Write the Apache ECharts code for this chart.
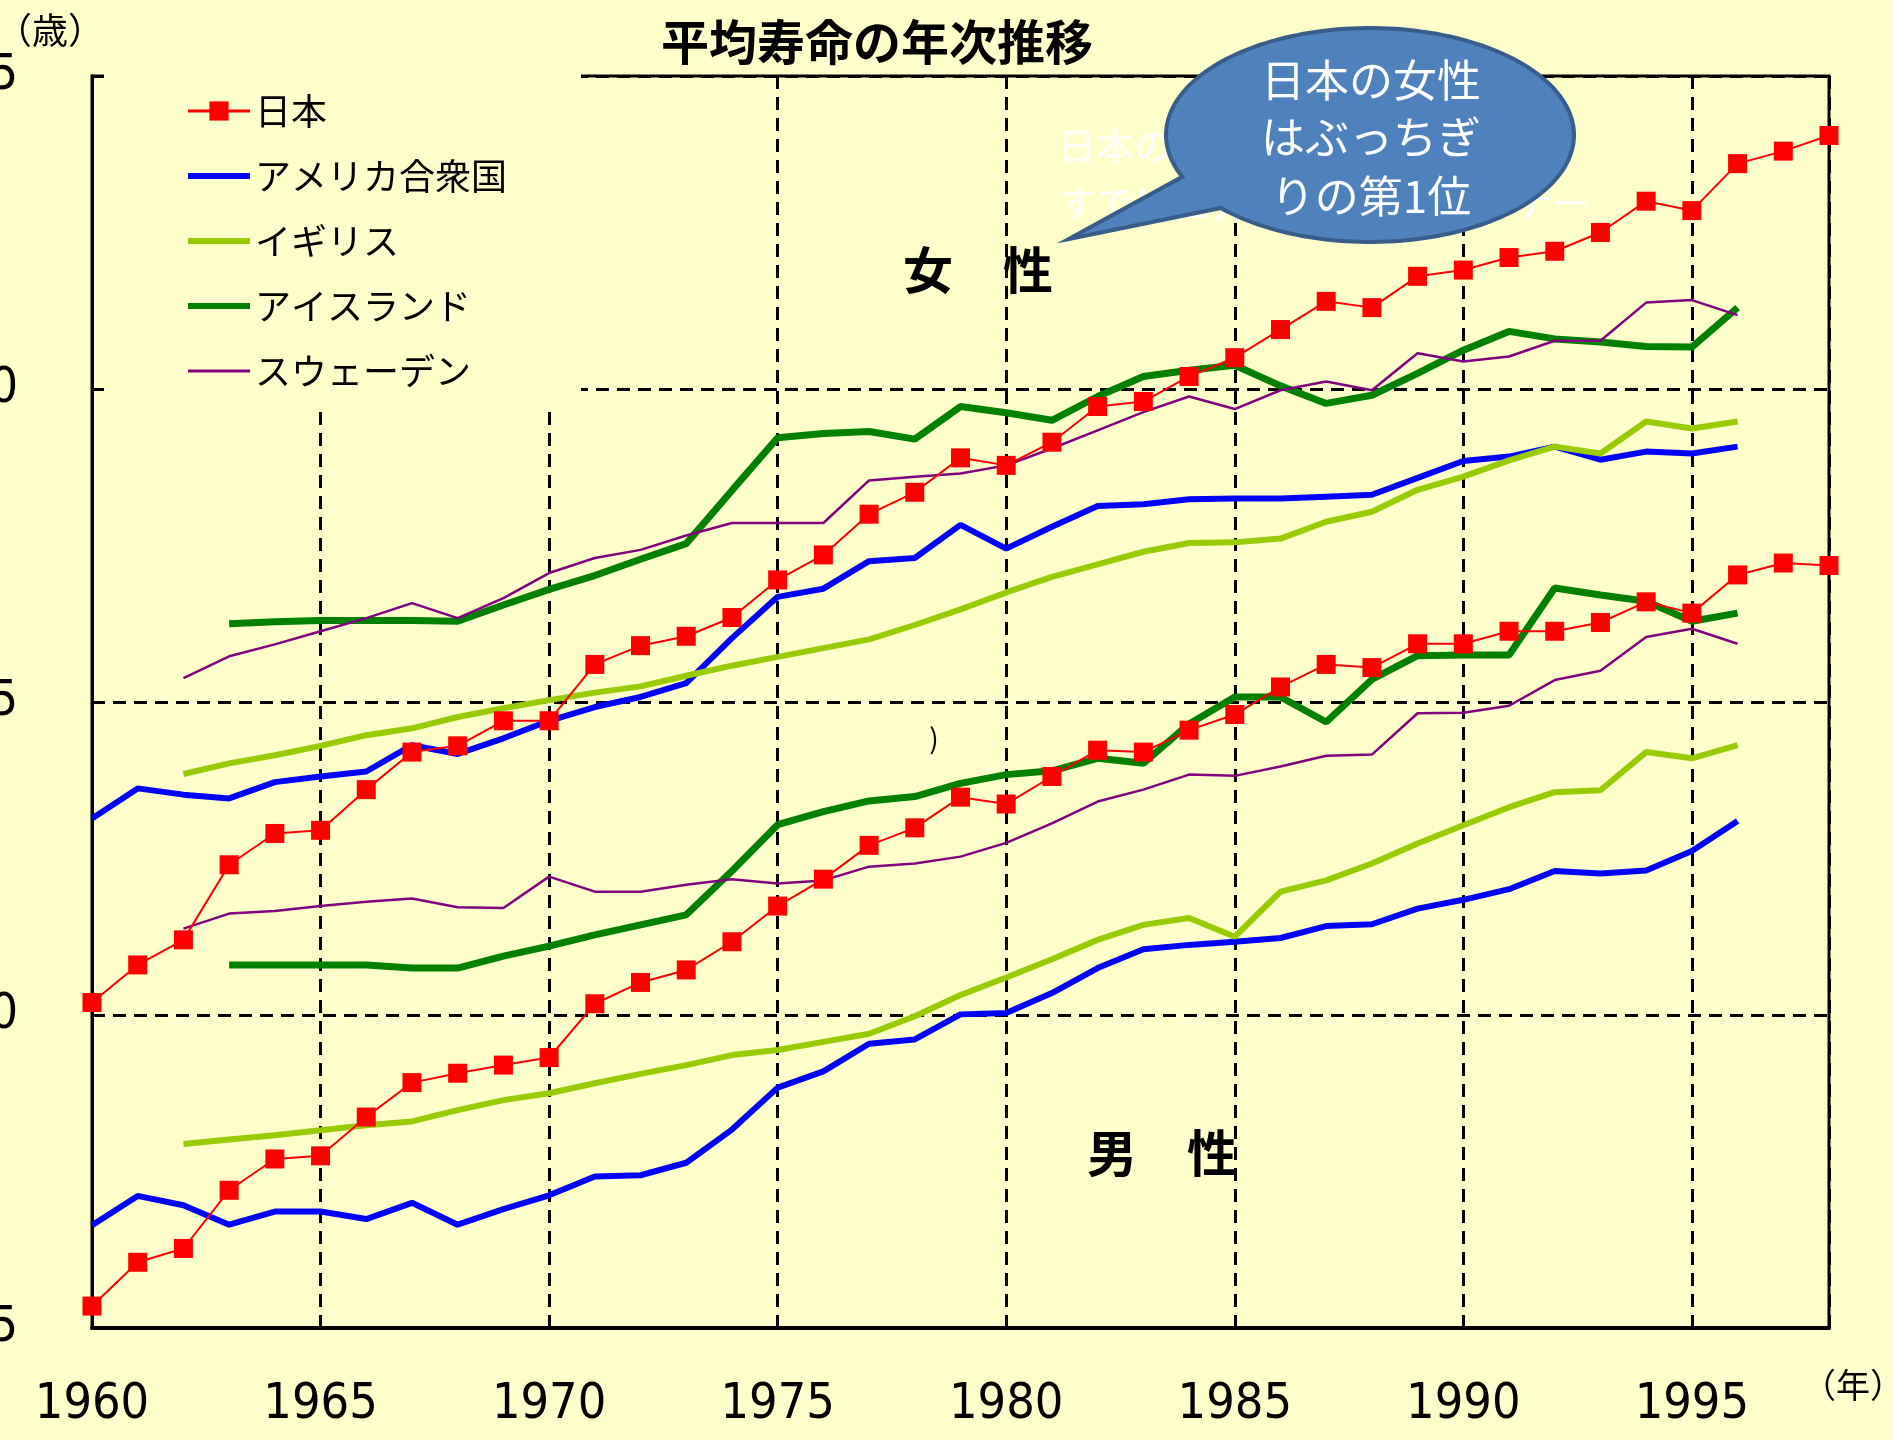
<!DOCTYPE html>
<html>
<head>
<meta charset="utf-8">
<title>平均寿命の年次推移</title>
<script src="https://cdn.jsdelivr.net/npm/echarts@6/dist/echarts.min.js"></script>
<style>
  html, body { margin: 0; padding: 0; background: #ffffcc; }
  #main { width: 1893px; height: 1440px; }
</style>
</head>
<body>
<div id="main"></div>
<script>
// 年（横軸）
var years = [1960, 1961, 1962, 1963, 1964, 1965, 1966, 1967, 1968, 1969,
             1970, 1971, 1972, 1973, 1974, 1975, 1976, 1977, 1978, 1979,
             1980, 1981, 1982, 1983, 1984, 1985, 1986, 1987, 1988, 1989,
             1990, 1991, 1992, 1993, 1994, 1995, 1996, 1997, 1998];
var yTicks = [65, 70, 75, 80, 85];
var xTicks = [1960, 1965, 1970, 1975, 1980, 1985, 1990, 1995];

// 日本 1960-1998
var japan_f = [70.2, 70.8, 71.2, 72.4, 72.9, 72.95, 73.6, 74.2, 74.3, 74.7,
               74.7, 75.6, 75.9, 76.05, 76.35, 76.95, 77.35, 78.0, 78.35, 78.9,
               78.78, 79.15, 79.72, 79.8, 80.2, 80.5, 80.95, 81.4, 81.3, 81.8,
               81.9, 82.1, 82.2, 82.5, 83.0, 82.85, 83.6, 83.8, 84.05];
var japan_m = [65.35, 66.05, 66.27, 67.2, 67.7, 67.75, 68.37, 68.92, 69.07, 69.2,
               69.32, 70.18, 70.52, 70.72, 71.17, 71.74, 72.17, 72.71, 72.99, 73.48,
               73.37, 73.81, 74.23, 74.2, 74.55, 74.8, 75.24, 75.6, 75.55, 75.93,
               75.93, 76.13, 76.13, 76.27, 76.6, 76.42, 77.03, 77.22, 77.18];
// アメリカ合衆国 1960-1996
var usa_f = [73.14, 73.62, 73.52, 73.46, 73.72, 73.81, 73.89, 74.31, 74.17, 74.42,
             74.7, 74.92, 75.08, 75.3, 76.02, 76.68, 76.81, 77.25, 77.3, 77.83,
             77.45, 77.8, 78.13, 78.16, 78.24, 78.25, 78.25, 78.28, 78.31, 78.58,
             78.85, 78.92, 79.08, 78.87, 79.0, 78.97, 79.08];
var usa_m = [66.64, 67.11, 66.96, 66.65, 66.86, 66.86, 66.74, 67.0, 66.65, 66.9,
             67.12, 67.42, 67.44, 67.64, 68.17, 68.84, 69.1, 69.54, 69.61, 70.01,
             70.03, 70.35, 70.75, 71.05, 71.12, 71.17, 71.23, 71.42, 71.45, 71.7,
             71.84, 72.01, 72.3, 72.26, 72.31, 72.62, 73.1];
// イギリス 1962-1996
var uk_f = [73.85, 74.02, 74.15, 74.3, 74.47, 74.58, 74.76, 74.9,
            75.03, 75.15, 75.25, 75.42, 75.58, 75.72, 75.86, 76.0, 76.23, 76.48,
            76.75, 77.0, 77.2, 77.4, 77.54, 77.55, 77.61, 77.88, 78.04, 78.39,
            78.6, 78.86, 79.08, 78.97, 79.48, 79.37, 79.48];
var uk_m = [67.94, 68.01, 68.08, 68.16, 68.24, 68.3, 68.48, 68.64,
            68.75, 68.91, 69.06, 69.2, 69.36, 69.44, 69.57, 69.7, 69.98, 70.32,
            70.6, 70.89, 71.2, 71.44, 71.55, 71.25, 71.97, 72.15, 72.42, 72.74,
            73.03, 73.32, 73.56, 73.59, 74.2, 74.1, 74.31];
// アイスランド 1963-1996
var iceland_f = [76.25, 76.28, 76.3, 76.3, 76.3, 76.29, 76.55,
                 76.8, 77.02, 77.28, 77.53, 78.38, 79.22, 79.29, 79.32, 79.2, 79.72,
                 79.62, 79.5, 79.88, 80.2, 80.3, 80.38, 80.05, 79.77, 79.9, 80.25,
                 80.62, 80.92, 80.8, 80.75, 80.68, 80.67, 81.3];
var iceland_m = [70.8, 70.8, 70.8, 70.8, 70.75, 70.75, 70.94,
                 71.1, 71.28, 71.44, 71.6, 72.3, 73.04, 73.25, 73.42, 73.49, 73.7,
                 73.84, 73.9, 74.1, 74.02, 74.65, 75.08, 75.08, 74.68, 75.36, 75.74,
                 75.75, 75.75, 76.82, 76.71, 76.61, 76.29, 76.42];
// スウェーデン 1962-1996
var sweden_f = [75.38, 75.73, 75.92, 76.13, 76.34, 76.58, 76.34, 76.66,
                77.06, 77.3, 77.43, 77.66, 77.86, 77.86, 77.86, 78.54, 78.6, 78.65,
                78.78, 79.05, 79.34, 79.63, 79.88, 79.68, 79.98, 80.12, 79.98, 80.57,
                80.44, 80.52, 80.77, 80.77, 81.38, 81.42, 81.18];
var sweden_m = [71.38, 71.62, 71.66, 71.74, 71.81, 71.86, 71.72, 71.71,
                72.21, 71.97, 71.97, 72.08, 72.17, 72.1, 72.15, 72.37, 72.42, 72.53,
                72.75, 73.06, 73.41, 73.6, 73.84, 73.82, 73.97, 74.14, 74.16, 74.82,
                74.83, 74.94, 75.35, 75.5, 76.04, 76.17, 75.93];

// 吹き出しの文
var bubbleLines = ['日本の女性', 'はぶっちぎ', 'りの第1位'];
var ghostLines = ['日本の女性の平均寿命は長く、', 'すでに世界のトップ・ランナー'];

function pairs(startYear, vals) {
  var off = years.indexOf(startYear);
  return vals.map(function (v, i) { return [years[off + i], v]; });
}

var jpFont = '"Noto Sans CJK JP", "Noto Sans CJK SC", sans-serif';
var numFont = '"Liberation Sans Narrow", "DejaVu Sans Condensed", "Liberation Sans", sans-serif';

function lineSeries(name, color, width, startYear, vals) {
  return {
    name: name,
    type: 'line',
    data: pairs(startYear, vals),
    symbol: 'none',
    showSymbol: false,
    lineStyle: { color: color, width: width },
    itemStyle: { color: color },
    emphasis: { disabled: true },
    silent: true
  };
}
function japanSeries(vals) {
  return {
    name: '日本',
    type: 'line',
    data: pairs(1960, vals),
    symbol: 'rect',
    symbolSize: 19,
    lineStyle: { color: '#ff0000', width: 2 },
    itemStyle: { color: '#ff0000' },
    emphasis: { disabled: true },
    silent: true,
    z: 5
  };
}

// 吹き出しの形
var cx = 1370, cy = 135, rx = 204, ry = 107;
var bubblePts = [[1069, 239]];
for (var a = 137; a >= -204; a -= 2) {
  var r = a * Math.PI / 180;
  bubblePts.push([cx + rx * Math.cos(r), cy + ry * Math.sin(r)]);
}

var noMark = { opacity: 0, color: 'rgba(0,0,0,0)', borderWidth: 0 };

var chart = echarts.init(document.getElementById('main'));
var option = {
  backgroundColor: '#ffffcc',
  animation: false,
  grid: {
    left: 92, top: 76, right: 64, bottom: 112,
    containLabel: false,
    outerBoundsMode: 'none',
    show: true, borderColor: '#000', borderWidth: 3,
    backgroundColor: 'transparent'
  },
  legend: {
    orient: 'vertical',
    left: 104, top: 73,
    padding: [16, 74, 12, 81],
    backgroundColor: '#ffffcc',
    itemWidth: 62, itemHeight: 24, itemGap: 21,
    selectedMode: false,
    textStyle: { fontFamily: jpFont, fontSize: 36, color: '#000', lineHeight: 44 },
    data: [
      { name: '日本', lineStyle: { width: 3 } },
      { name: 'アメリカ合衆国', lineStyle: { width: 6 }, itemStyle: noMark },
      { name: 'イギリス', lineStyle: { width: 6 }, itemStyle: noMark },
      { name: 'アイスランド', lineStyle: { width: 6 }, itemStyle: noMark },
      { name: 'スウェーデン', lineStyle: { width: 3 }, itemStyle: noMark }
    ]
  },
  xAxis: {
    type: 'value',
    min: 1960, max: 1998, interval: 5,
    axisLine: { show: true, lineStyle: { color: '#000', width: 4 } },
    axisTick: { show: false },
    axisLabel: {
      margin: 52,
      fontFamily: numFont, fontSize: 50, color: '#000',
      formatter: function (v) { return xTicks.indexOf(v) >= 0 ? String(v) : ''; }
    },
    splitLine: { show: true, lineStyle: { color: '#000', width: 3, type: [13, 8] } }
  },
  yAxis: {
    type: 'value',
    min: 65, max: 85, interval: 5,
    axisLine: { show: true, lineStyle: { color: '#000', width: 3 } },
    axisTick: { show: true, inside: true, length: 12, lineStyle: { color: '#000', width: 3 } },
    axisLabel: {
      margin: 74,
      fontFamily: numFont, fontSize: 50, color: '#000',
      formatter: function (v) { return yTicks.indexOf(v) >= 0 ? String(v) : ''; }
    },
    splitLine: { show: true, lineStyle: { color: '#000', width: 3, type: [13, 8] } }
  },
  series: [
    lineSeries('アメリカ合衆国', '#0000ff', 6, 1960, usa_f),
    lineSeries('アメリカ合衆国', '#0000ff', 6, 1960, usa_m),
    lineSeries('イギリス', '#99cc00', 6, 1962, uk_f),
    lineSeries('イギリス', '#99cc00', 6, 1962, uk_m),
    lineSeries('アイスランド', '#008000', 7, 1963, iceland_f),
    lineSeries('アイスランド', '#008000', 7, 1963, iceland_m),
    lineSeries('スウェーデン', '#800080', 2.5, 1962, sweden_f),
    lineSeries('スウェーデン', '#800080', 2.5, 1962, sweden_m),
    japanSeries(japan_f),
    japanSeries(japan_m)
  ],
  graphic: [
    { type: 'text', x: 877, y: 42, z: 100,
      style: { text: '平均寿命の年次推移', fontFamily: jpFont, fontSize: 48, fontWeight: 'bold',
               fill: '#000', align: 'center', verticalAlign: 'middle' } },
    { type: 'text', x: 50, y: 30, z: 100,
      style: { text: '（歳）', fontFamily: jpFont, fontSize: 36, fill: '#000',
               align: 'center', verticalAlign: 'middle' } },
    { type: 'text', x: 1853, y: 1385, z: 100,
      style: { text: '（年）', fontFamily: jpFont, fontSize: 34, fill: '#000',
               align: 'center', verticalAlign: 'middle' } },
    { type: 'text', x: 978, y: 270, z: 100,
      style: { text: '女　性', fontFamily: jpFont, fontSize: 50, fontWeight: 'bold', fill: '#000',
               align: 'center', verticalAlign: 'middle' } },
    { type: 'text', x: 1162, y: 1153, z: 100,
      style: { text: '男　性', fontFamily: jpFont, fontSize: 50, fontWeight: 'bold', fill: '#000',
               align: 'center', verticalAlign: 'middle' } },
    { type: 'text', x: 934, y: 738, z: 100,
      style: { text: ')', fontFamily: jpFont, fontSize: 28, fill: '#000',
               align: 'center', verticalAlign: 'middle' } },
    { type: 'text', x: 1058, y: 146, z: 99,
      style: { text: ghostLines[0], fontFamily: jpFont, fontSize: 38, fill: '#ffffff',
               align: 'left', verticalAlign: 'middle' } },
    { type: 'text', x: 1058, y: 203, z: 99,
      style: { text: ghostLines[1], fontFamily: jpFont, fontSize: 38, fill: '#ffffff',
               align: 'left', verticalAlign: 'middle' } },
    { type: 'polygon', z: 100,
      shape: { points: bubblePts },
      style: { fill: '#4f81bd', stroke: '#385d8a', lineWidth: 4 } },
    { type: 'text', x: 1371, y: 80, z: 101,
      style: { text: bubbleLines[0], fontFamily: jpFont, fontSize: 44, fill: '#ffffff',
               align: 'center', verticalAlign: 'middle' } },
    { type: 'text', x: 1371, y: 137, z: 101,
      style: { text: bubbleLines[1], fontFamily: jpFont, fontSize: 44, fill: '#ffffff',
               align: 'center', verticalAlign: 'middle' } },
    { type: 'text', x: 1371, y: 196, z: 101,
      style: { text: bubbleLines[2], fontFamily: jpFont, fontSize: 44, fill: '#ffffff',
               align: 'center', verticalAlign: 'middle' } }
  ]
};
chart.setOption(option);
</script>
</body>
</html>
